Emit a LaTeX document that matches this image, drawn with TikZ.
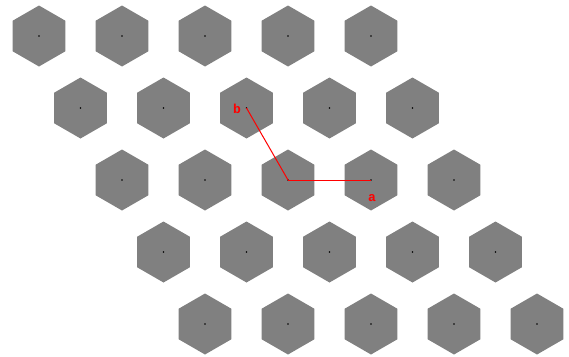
\documentclass[tikz,border=0pt]{standalone}
\usepackage{fontspec}
\setmonofont{Liberation Mono}
\usetikzlibrary{shapes.geometric}
\definecolor{cell}{HTML}{808080}
\definecolor{vec}{HTML}{FF0000}
\tikzset{sc/.style={x=1pt,y=-1pt,line width=1pt},
  hexcell/.style={regular polygon,regular polygon sides=6,shape border rotate=30,fill=cell,minimum size=61pt,inner sep=0pt},
  vlab/.style={vec,font=\fontsize{13}{13}\selectfont\ttfamily\bfseries,inner sep=0pt}}

\begin{document}
\begin{tikzpicture}[sc]
  \useasboundingbox (0,0) rectangle (569,356);
  \foreach \r in {0,...,4}{\foreach \c in {0,...,4}{\node[hexcell] (h-\r-\c) at ({39+83*\c+41.5*\r},{36+72*\r}){};\fill (h-\r-\c.center) circle (0.9pt);}}
  \draw[vec] (h-2-2.center)--(h-2-3.center);
  \draw[vec] (h-2-2.center)--(h-1-2.center);
  \node[vlab] (la) at (372,198){a};
  \node[vlab] (lb) at (237,109){b};
\end{tikzpicture}
\end{document}
